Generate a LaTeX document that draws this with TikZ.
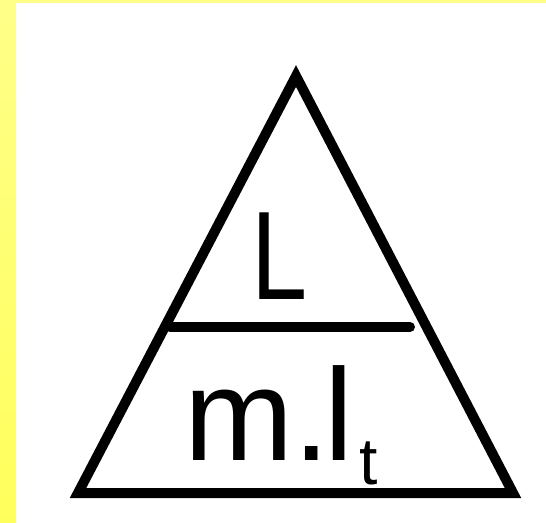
\documentclass[tikz,border=0pt]{standalone}
\usepackage{fontspec}
\setmainfont{Liberation Sans}
\definecolor{ytop}{HTML}{FFFF88}
\definecolor{ybot}{HTML}{FFFF5C}
\tikzset{
  edge/.style={line width=10pt, black},
  bar/.style={line width=10pt, black, line cap=round},
  txt/.style={inner sep=0pt, outer sep=0pt, anchor=base west}
}
\begin{document}
\begin{tikzpicture}[x=1pt,y=-1pt]
\useasboundingbox (0,0) rectangle (546,522);
\fill[white] (0,0) rectangle (546,522);
\fill[ytop] (0,0) rectangle (546,3);
\shade[top color=ytop, bottom color=ybot] (0,0) rectangle (16,522);
\coordinate (apex) at (296,76);
\coordinate (bl) at (78,493);
\coordinate (br) at (513,493);
\coordinate (hl) at (170,327);
\coordinate (hr) at (410,327);
\draw[edge] (apex) -- (bl) -- (br) -- cycle;
\draw[bar] (hl) -- (hr);
\node[txt] (num) at (251,299) {\scalebox{0.8}[1]{\fontsize{126}{126}\selectfont L}};
\node[txt] (den) at (184,460) {\fontsize{131}{131}\selectfont m.\kern-5pt l\kern6pt\raisebox{-24pt}{\fontsize{66}{66}\selectfont t}};
\end{tikzpicture}
\end{document}
